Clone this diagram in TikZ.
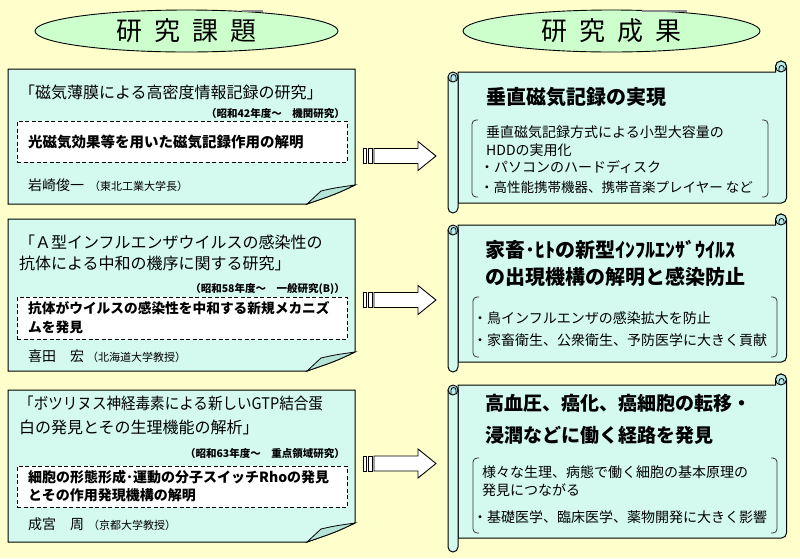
\documentclass[tikz,border=0pt]{standalone}
\usepackage{fontspec}
\usepackage{graphicx}
\newfontfamily\jp{Noto Sans CJK JP}
\usetikzlibrary{shapes.geometric,calc}
\definecolor{bgc}{HTML}{FFFFCC}
\definecolor{ellc}{HTML}{CCFFCC}
\definecolor{boxc}{HTML}{D4FAF0}
\definecolor{foldc}{HTML}{B4E4D8}
\definecolor{curlc}{HTML}{B8ECEC}
\newcommand\fs[1]{\fontsize{#1pt}{#1pt}\selectfont}
\tikzset{
  txt/.style={inner sep=0pt, anchor=base west, font=\jp},
  txte/.style={inner sep=0pt, anchor=base east, font=\jp},
  header/.style={ellipse, draw=black, line width=0.9pt, fill=ellc, inner sep=0pt, font=\jp},
  boxst/.style={draw=black, line width=1pt, fill=boxc},
  foldst/.style={draw=black, line width=0.8pt, fill=foldc},
  dbox/.style={draw=black, line width=0.9pt, dash pattern=on 4pt off 2.5pt, fill=white, inner sep=0pt},
  scrollst/.style={draw=black, line width=1pt, fill=boxc},
  curlst/.style={draw=black, line width=0.9pt, fill=curlc},
  brk/.style={draw=black!80, line width=0.8pt, rounded corners=4pt},
  arrowst/.style={draw=black, line width=0.9pt, fill=white},
}
\newcommand\blockarrow[1]{%
  \filldraw[arrowst] ($(#1)+(0,-7.5)$) rectangle ($(#1)+(3.5,7.5)$);
  \filldraw[arrowst] ($(#1)+(5,-7.5)$) rectangle ($(#1)+(9,7.5)$);
  \filldraw[arrowst] ($(#1)+(11,-7.5)$) -- ($(#1)+(55,-7.5)$) -- ($(#1)+(55,-14.5)$) -- ($(#1)+(73,0)$) -- ($(#1)+(55,14.5)$) -- ($(#1)+(55,7.5)$) -- ($(#1)+(11,7.5)$) -- cycle;}
% #1 body top, #2 body bottom, #3 left roll bottom
\newcommand\drawscroll[3]{%
  \filldraw[scrollst] (458,#1) -- (775.5,#1) -- (775.5,#1-5.5) arc[start angle=180,end angle=0,radius=5.5pt] -- (786.5,#2-5) arc[start angle=0,end angle=-90,radius=5pt] -- (458,#2) -- cycle;
  \filldraw[curlst] (781,#1-5.5) circle[radius=5.5pt];
  \draw[line width=0.8pt] (779,#1) -- (779,#1-4) arc[start angle=180,end angle=0,radius=2.5pt] -- (784,#1-2);
  \filldraw[scrollst] (448,#1+5) -- (448,#3-5) arc[start angle=180,end angle=360,radius=5pt] -- (458,#1+5) -- cycle;
  \filldraw[curlst] (453,#1+5) circle[radius=5pt];
  \draw[line width=0.8pt] (451,#1+10) -- (451,#1+5) arc[start angle=180,end angle=0,radius=2.5pt] -- (456,#1+8);}
\newcommand\drawbox[2]{% #1 top, #2 bottom
  \filldraw[boxst] (8,#1) -- (355,#1) -- (355,#2-19) .. controls (336,#2-10) .. (307,#2) -- (8,#2) -- cycle;
  \filldraw[foldst] (307,#2) -- (321,#2-13) .. controls (334,#2-16) .. (355,#2-19) .. controls (336,#2-10) .. (307,#2) -- cycle;}
\begin{document}
\begin{tikzpicture}[x=1pt,y=-1pt]
\useasboundingbox (0,0) rectangle (800,558);
\fill[bgc] (0,0) rectangle (800,558);

% headers
\node[header, minimum width=303pt, minimum height=42pt] (h1) at (186.5,31) {\fs{26}研\hspace{12pt}究\hspace{12pt}課\hspace{12pt}題};
\node[header, minimum width=297pt, minimum height=42pt] (h2) at (611.5,31) {\fs{26}研\hspace{12pt}究\hspace{12pt}成\hspace{12pt}果};
\fill[black!45] (242,9.5) rectangle (263,11.5);
\fill[black!45] (642,9.5) rectangle (687,11.5);

% left box 1
\drawbox{69}{204}
\node[txt] (b1t) at (19,98) {\fs{16}「磁気薄膜による高密度情報記録の研究」};
\node[txte] (b1y) at (345,117) {\fs{10.5}\bfseries （昭和42年度～　機関研究）};
\node[dbox, minimum width=330pt, minimum height=41pt] (b1d) at (182,141.5) {};
\node[txt] (b1dt) at (28,147) {\fs{14.5}\bfseries 光磁気効果等を用いた磁気記録作用の解明};
\node[txt] (b1n) at (28,190) {\fs{14}岩崎俊一\hspace{5pt}{\fs{11}（東北工業大学長）}};

% left box 2
\drawbox{219}{371}
\node[txt] (b2t1) at (19,248) {\fs{16}「Ａ型インフルエンザウイルスの感染性の};
\node[txt] (b2t2) at (19,269) {\fs{16}抗体による中和の機序に関する研究」};
\node[txte] (b2y) at (345,292) {\fs{10.5}\bfseries （昭和58年度～　一般研究(B)）};
\node[dbox, minimum width=330pt, minimum height=42pt] (b2d) at (182,318) {};
\node[txt] (b2dt1) at (28,313) {\fs{13.7}\bfseries 抗体がウイルスの感染性を中和する新規メカニズ};
\node[txt] (b2dt2) at (28,332) {\fs{13.7}\bfseries ムを発見};
\node[txt] (b2n) at (28,361) {\fs{14}喜田　宏\hspace{3pt}{\fs{11}（北海道大学教授）}};

% left box 3
\drawbox{390}{542}
\node[txt] (b3t1) at (19,409) {\scalebox{0.91}[1]{\fs{16}「ボツリヌス神経毒素による新しいGTP結合蛋}};
\node[txt] (b3t2) at (19,433) {\fs{16}白の発見とその生理機能の解析」};
\node[txte] (b3y) at (345,457) {\fs{10.5}\bfseries （昭和63年度～　重点領域研究）};
\node[dbox, minimum width=330pt, minimum height=41pt] (b3d) at (182,486.5) {};
\node[txt] (b3dt1) at (28,482) {\fs{14}\bfseries 細胞の形態形成･運動の分子スイッチRhoの発見};
\node[txt] (b3dt2) at (28,500) {\fs{14}\bfseries とその作用発現機構の解明};
\node[txt] (b3n) at (28,529) {\fs{14}成宮　周\hspace{4pt}{\fs{11}（京都大学教授）}};

% arrows
\coordinate (a1) at (363,156);
\coordinate (a2) at (363,300);
\coordinate (a3) at (363,463.5);
\blockarrow{a1}
\blockarrow{a2}
\blockarrow{a3}

% scroll 1
\drawscroll{72}{203}{213}
\node[txt] (s1t) at (486,104) {\fs{20}\bfseries 垂直磁気記録の実現};
\draw[brk] (478,120) -- (472,120) -- (472,197) -- (478,197);
\draw[brk] (762,120) -- (768,120) -- (768,197) -- (762,197);
\node[txt] (s1l1) at (486,137) {\fs{14}垂直磁気記録方式による小型大容量の};
\node[txt] (s1l2) at (486,155) {\fs{14}HDDの実用化};
\node[txt] (s1l3) at (480,172) {\fs{14}・パソコンのハードディスク};
\node[txt] (s1l4) at (480,192) {\fs{13.5}・高性能携帯機器、携帯音楽プレイヤー など};

% scroll 2
\drawscroll{225}{362}{372}
\node[txt] (s2t1) at (485,257) {\fs{20}\bfseries 家畜･ﾋﾄの新型ｲﾝﾌﾙｴﾝｻﾞｳｲﾙｽ};
\node[txt] (s2t2) at (485,284) {\fs{20}\bfseries の出現機構の解明と感染防止};
\draw[brk] (479,297) -- (473,297) -- (473,357) -- (479,357);
\draw[brk] (771,297) -- (777,297) -- (777,357) -- (771,357);
\node[txt] (s2l1) at (473,323) {\fs{14}・鳥インフルエンザの感染拡大を防止};
\node[txt] (s2l2) at (473,345) {\fs{14}・家畜衛生、公衆衛生、予防医学に大きく貢献};

% scroll 3
\drawscroll{385}{538}{552}
\node[txt] (s3t1) at (485,410) {\fs{19}\bfseries 高血圧、癌化、癌細胞の転移・};
\node[txt] (s3t2) at (485,442) {\fs{19}\bfseries 浸潤などに働く経路を発見};
\draw[brk] (479,458) -- (473,458) -- (473,533) -- (479,533);
\draw[brk] (771,458) -- (777,458) -- (777,533) -- (771,533);
\node[txt] (s3l1) at (482,477) {\fs{14}様々な生理、病態で働く細胞の基本原理の};
\node[txt] (s3l2) at (482,495) {\fs{14}発見につながる};
\node[txt] (s3l3) at (473,522) {\fs{14}・基礎医学、臨床医学、薬物開発に大きく影響};
\end{tikzpicture}
\end{document}
